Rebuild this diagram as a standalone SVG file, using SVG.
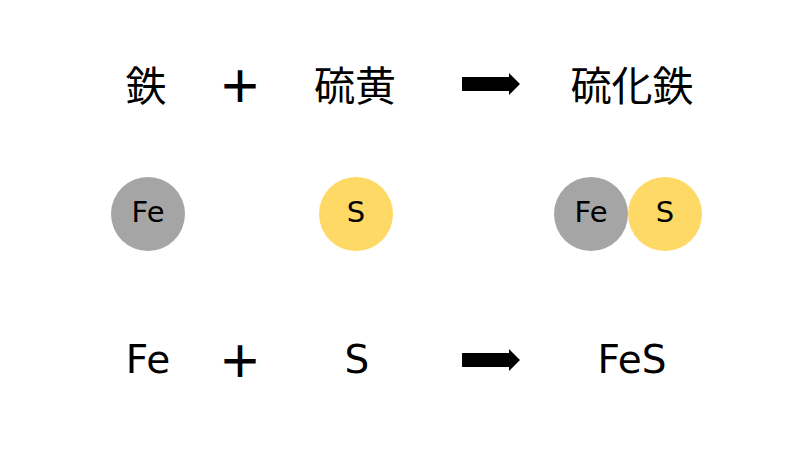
<svg xmlns="http://www.w3.org/2000/svg" width="800" height="450" viewBox="0 0 800 450">
<style>
.jp{font-family:"Noto Sans CJK JP","DejaVu Sans",sans-serif;font-size:41px;fill:#000;text-anchor:middle;dominant-baseline:central}
.f{font-family:"DejaVu Sans",sans-serif;font-size:39px;fill:#000;text-anchor:middle}
.c{font-family:"DejaVu Sans",sans-serif;font-size:29px;fill:#000;text-anchor:middle;dominant-baseline:central}
.plus{font-family:"Noto Sans CJK JP",sans-serif;font-size:44px;font-weight:bold;fill:#000;text-anchor:middle;dominant-baseline:central}
.fe{fill:#A5A5A5}
.s{fill:#FFD966}
</style>
<rect width="800" height="450" fill="#fff"/>
<g id="row1">
<text id="t-iron" class="jp" x="146" y="83">鉄</text>
<text id="t-plus1" class="plus" x="240" y="84">＋</text>
<text id="t-sulfur" class="jp" x="355" y="83">硫黄</text>
<text id="t-fes" class="jp" x="632" y="83">硫化鉄</text>
</g>
<g id="atoms">
<g id="atom-fe"><circle class="fe" cx="148" cy="214" r="37"/><text class="c" x="148" y="212">Fe</text></g>
<g id="atom-s"><circle class="s" cx="356" cy="214" r="37"/><text class="c" x="356" y="212">S</text></g>
<g id="mol-fes">
<circle class="fe" cx="591" cy="214" r="37"/><circle class="s" cx="665" cy="214" r="37"/>
<text class="c" x="591" y="212">Fe</text><text class="c" x="665" y="212">S</text>
</g>
</g>
<g id="row3">
<text id="f-fe" class="f" x="148" y="373">Fe</text>
<text id="t-plus2" class="plus" x="240" y="359">＋</text>
<text id="f-s" class="f" x="357" y="373">S</text>
<text id="f-fes" class="f" x="632" y="373">FeS</text>
</g>
<g id="connectors">
<polygon points="462,77 509,77 509,73 520,84 509,95 509,91 462,91" fill="#000"/>
<polygon points="462,353 509,353 509,349 520,360 509,371 509,367 462,367" fill="#000"/>
</g>
</svg>
